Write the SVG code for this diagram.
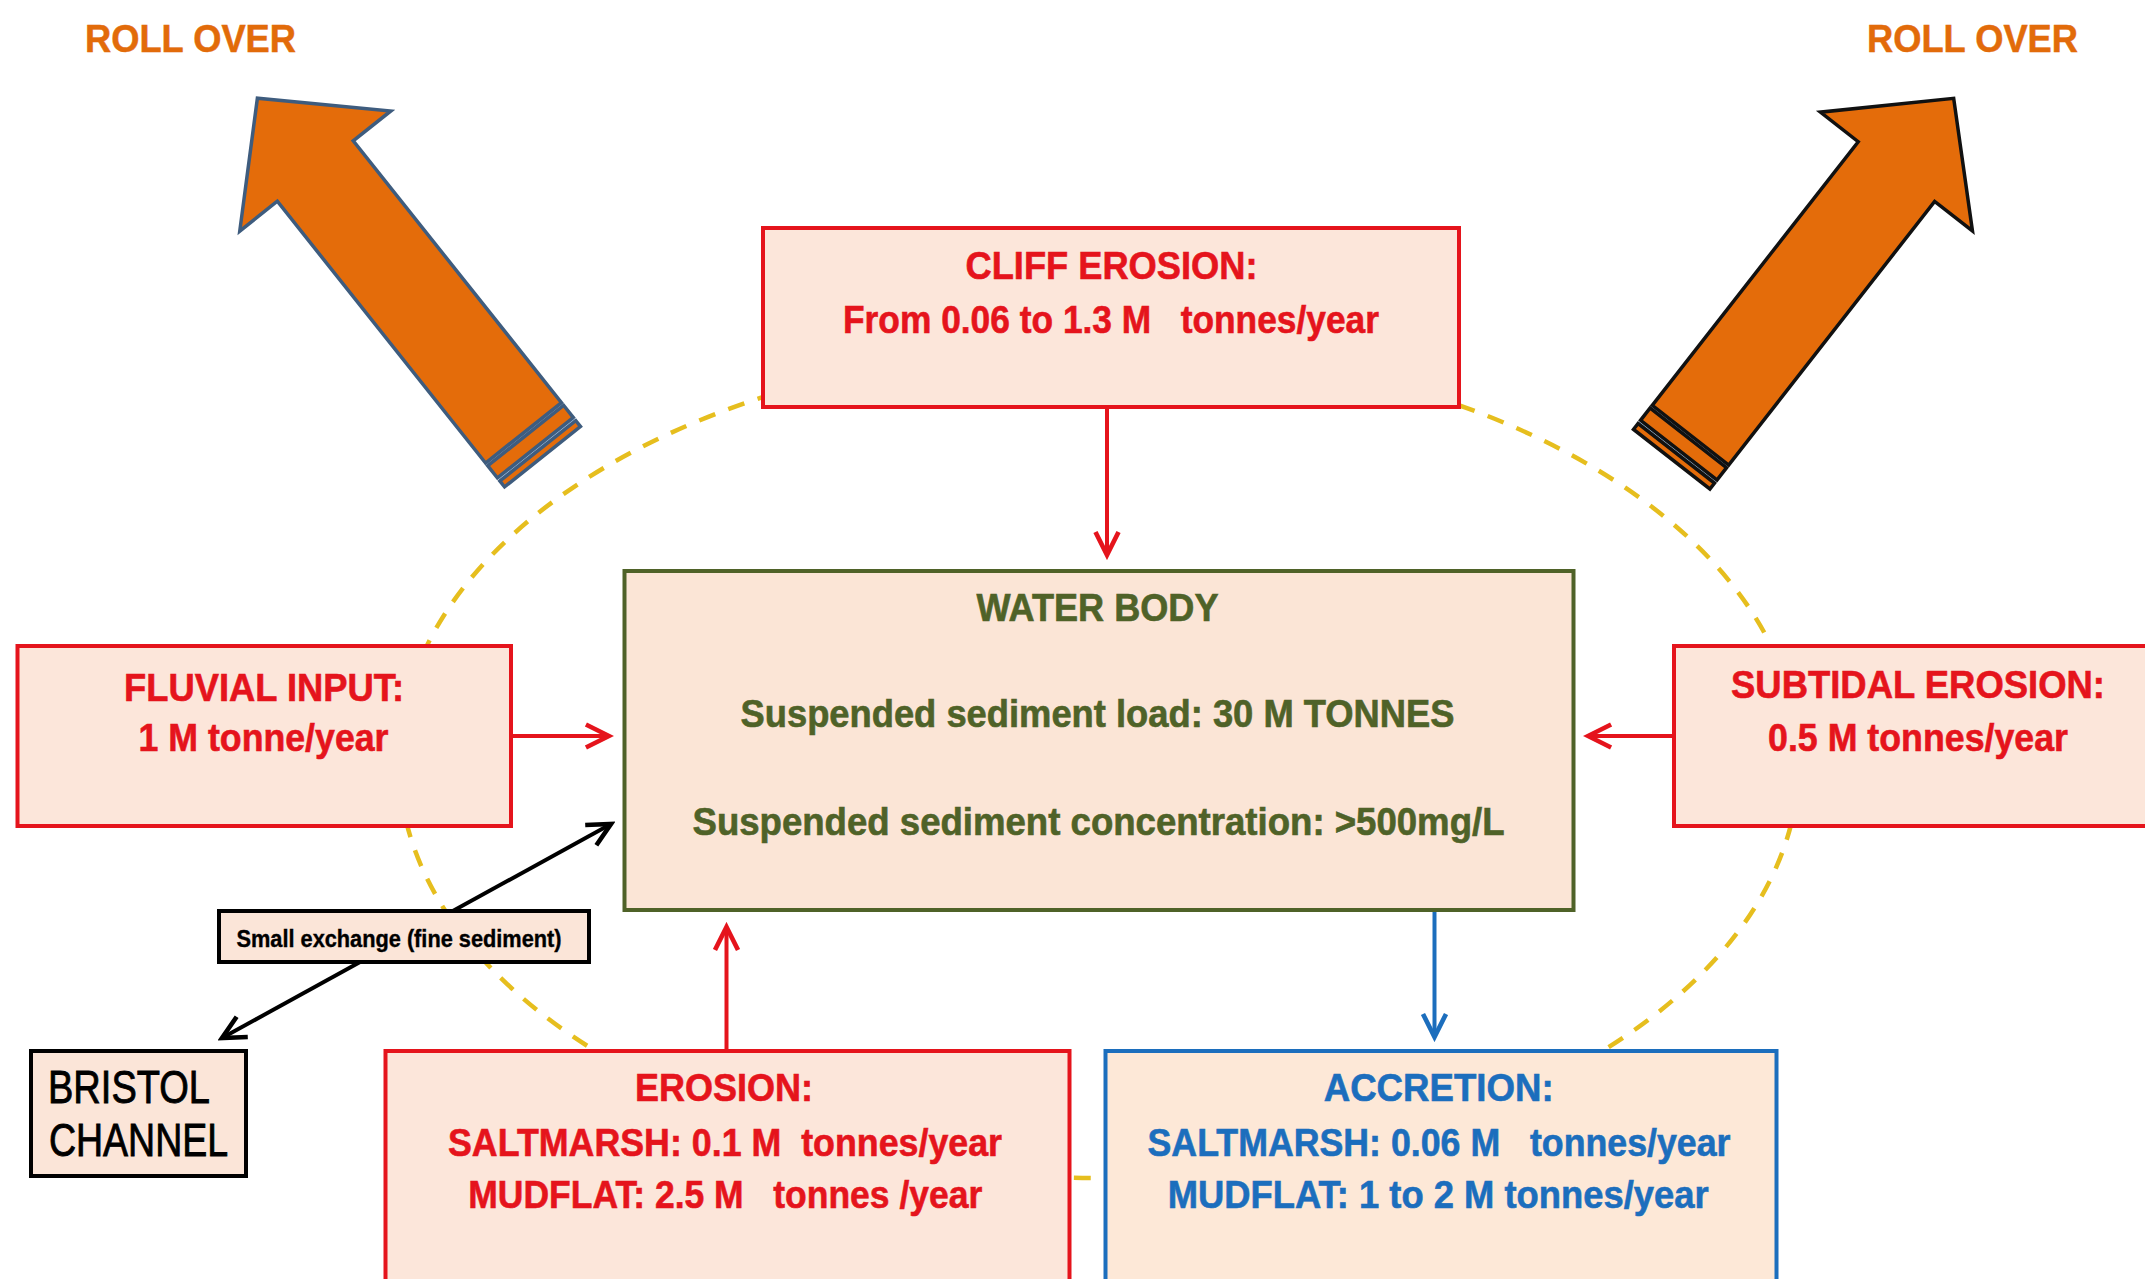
<svg xmlns="http://www.w3.org/2000/svg" width="2145" height="1279" viewBox="0 0 2145 1279">
  <style>
    .t { font-family: "Liberation Sans", Arial, sans-serif; font-weight: bold; text-anchor: middle; }
    .red { fill: #E5141C; stroke: #E5141C; stroke-width: 0.6; font-size: 38px; }
    .blue { fill: #1C6EBD; stroke: #1C6EBD; stroke-width: 0.6; font-size: 38px; }
    .olive { fill: #4F6228; stroke: #4F6228; stroke-width: 0.6; font-size: 38px; }
    .roll { fill: #E26B0A; stroke: #E26B0A; stroke-width: 0.5; font-size: 38px; }
    .boxr { fill: #FCE6DA; stroke: #E5141C; stroke-width: 4; }
    .boxb { fill: #FDE8D7; stroke: #1C6EBD; stroke-width: 4; }
    .boxw { fill: #FBE5D6; stroke: #4F6228; stroke-width: 4; }
    .boxk { fill: #FBE5D8; stroke: #000000; stroke-width: 4; }
    .cr { stroke: #E5141C; stroke-width: 4; fill: none; }
    .cb { stroke: #1C6EBD; stroke-width: 4; fill: none; }
    .ck { stroke: #000000; stroke-width: 4; fill: none; }
    .arrowL { fill: #E46C0A; stroke: #3E5C7E; stroke-width: 3.5; stroke-linejoin: miter; }
    .arrowR { fill: #E46C0A; stroke: #111111; stroke-width: 3.5; stroke-linejoin: miter; }
    .gap { fill: #A9C9E9; }
    .bc { font-family: "Liberation Sans", Arial, sans-serif; font-size: 46px; fill: #000000; stroke: #000000; stroke-width: 0.9; }
  </style>
  <defs>
    <marker id="mr" markerUnits="userSpaceOnUse" markerWidth="30" markerHeight="30" viewBox="-2 -2 26 26" refX="20" refY="10" orient="auto">
      <path d="M0,0 L20,10 L0,20" fill="none" stroke="#E5141C" stroke-width="4"/>
    </marker>
    <marker id="mb" markerUnits="userSpaceOnUse" markerWidth="30" markerHeight="30" viewBox="-2 -2 26 26" refX="20" refY="10" orient="auto">
      <path d="M0,0 L20,10 L0,20" fill="none" stroke="#1C6EBD" stroke-width="4"/>
    </marker>
    <marker id="mk" markerUnits="userSpaceOnUse" markerWidth="30" markerHeight="30" viewBox="-2 -2 26 26" refX="20" refY="10" orient="auto-start-reverse">
      <path d="M0,0 L20,10 L0,20" fill="none" stroke="#000000" stroke-width="4"/>
    </marker>
  </defs>

  <rect x="0" y="0" width="2145" height="1279" fill="#FFFFFF"/>

  <ellipse id="boundary" cx="1099" cy="762" rx="700" ry="416" fill="none" stroke="#E6BE1E" stroke-width="4.5" stroke-dasharray="17 14"/>

  <g id="rollover-left">
    <text class="t roll" x="190.5" y="52" textLength="211" lengthAdjust="spacingAndGlyphs">ROLL OVER</text>
    <g transform="translate(542.5,456.7) rotate(-128.5)">
      <rect class="gap" x="0" y="-48.5" width="31" height="97"/>
      <path class="arrowL" d="M30.5,-48.5 L365,-48.5 L365,-96.5 L458,0 L365,96.5 L365,48.5 L30.5,48.5 Z"/>
      <rect class="arrowL" x="11.5" y="-48.5" width="15.5" height="97"/>
      <rect class="arrowL" x="0" y="-48.5" width="7.5" height="97"/>
    </g>
  </g>

  <g id="rollover-right">
    <text class="t roll" x="1972.5" y="52" textLength="211" lengthAdjust="spacingAndGlyphs">ROLL OVER</text>
    <g transform="translate(1671.7,459.2) rotate(-52)">
      <rect class="gap" x="0" y="-48.5" width="31" height="97"/>
      <path class="arrowR" d="M30.5,-48.5 L365,-48.5 L365,-96.5 L458,0 L365,96.5 L365,48.5 L30.5,48.5 Z"/>
      <rect class="arrowR" x="11.5" y="-48.5" width="15.5" height="97"/>
      <rect class="arrowR" x="0" y="-48.5" width="7.5" height="97"/>
    </g>
  </g>

  <g id="connectors">
    <line class="cr" x1="1107" y1="407" x2="1107" y2="555" marker-end="url(#mr)"/>
    <line class="cr" x1="511" y1="736" x2="609" y2="736" marker-end="url(#mr)"/>
    <line class="cr" x1="1674" y1="736" x2="1588" y2="736" marker-end="url(#mr)"/>
    <line class="cr" x1="726.5" y1="1051" x2="726.5" y2="927" marker-end="url(#mr)"/>
    <line class="cb" x1="1434.5" y1="910" x2="1434.5" y2="1037" marker-end="url(#mb)"/>
    <line class="ck" x1="222" y1="1038" x2="611" y2="824" marker-start="url(#mk)" marker-end="url(#mk)"/>
  </g>

  <g id="cliff-erosion">
    <rect class="boxr" x="763" y="228" width="696" height="179"/>
    <text class="t red" x="1111.5" y="279" textLength="292" lengthAdjust="spacingAndGlyphs">CLIFF EROSION:</text>
    <text class="t red" x="1111" y="333" textLength="536" lengthAdjust="spacingAndGlyphs" xml:space="preserve">From 0.06 to 1.3 M   tonnes/year</text>
  </g>

  <g id="water-body">
    <rect class="boxw" x="624.5" y="571" width="949" height="339"/>
    <text class="t olive" x="1097.5" y="621" textLength="242" lengthAdjust="spacingAndGlyphs">WATER BODY</text>
    <text class="t olive" x="1097.5" y="727" textLength="714" lengthAdjust="spacingAndGlyphs">Suspended sediment load: 30 M TONNES</text>
    <text class="t olive" x="1098.5" y="835" textLength="812" lengthAdjust="spacingAndGlyphs">Suspended sediment concentration: &gt;500mg/L</text>
  </g>

  <g id="fluvial-input">
    <rect class="boxr" x="17.5" y="646" width="493.5" height="180"/>
    <text class="t red" x="264" y="701" textLength="280" lengthAdjust="spacingAndGlyphs">FLUVIAL INPUT:</text>
    <text class="t red" x="263.5" y="751" textLength="250" lengthAdjust="spacingAndGlyphs">1 M tonne/year</text>
  </g>

  <g id="subtidal-erosion">
    <rect class="boxr" x="1674" y="646" width="500" height="180"/>
    <text class="t red" x="1918" y="698" textLength="374" lengthAdjust="spacingAndGlyphs">SUBTIDAL EROSION:</text>
    <text class="t red" x="1918" y="751" textLength="300" lengthAdjust="spacingAndGlyphs">0.5 M tonnes/year</text>
  </g>

  <g id="small-exchange">
    <rect class="boxk" x="219" y="911" width="370" height="51"/>
    <text class="t" x="399" y="947" style="font-size:24px;fill:#000;stroke:#000;stroke-width:0.4" textLength="325" lengthAdjust="spacingAndGlyphs">Small exchange (fine sediment)</text>
  </g>

  <g id="bristol-channel">
    <rect class="boxk" x="31" y="1051" width="215" height="125"/>
    <text class="bc" x="48" y="1103" textLength="162" lengthAdjust="spacingAndGlyphs">BRISTOL</text>
    <text class="bc" x="49" y="1156" textLength="179" lengthAdjust="spacingAndGlyphs">CHANNEL</text>
  </g>

  <g id="erosion">
    <rect class="boxr" x="385.5" y="1051" width="684" height="260"/>
    <text class="t red" x="724" y="1101" textLength="178" lengthAdjust="spacingAndGlyphs">EROSION:</text>
    <text class="t red" x="725" y="1156" textLength="554" lengthAdjust="spacingAndGlyphs" xml:space="preserve">SALTMARSH: 0.1 M  tonnes/year</text>
    <text class="t red" x="725.3" y="1208" textLength="514" lengthAdjust="spacingAndGlyphs" xml:space="preserve">MUDFLAT: 2.5 M   tonnes /year</text>
  </g>

  <g id="accretion">
    <rect class="boxb" x="1105.5" y="1051" width="671" height="260"/>
    <text class="t blue" x="1438.7" y="1101" textLength="230" lengthAdjust="spacingAndGlyphs">ACCRETION:</text>
    <text class="t blue" x="1439" y="1156" textLength="583" lengthAdjust="spacingAndGlyphs" xml:space="preserve">SALTMARSH: 0.06 M   tonnes/year</text>
    <text class="t blue" x="1438.2" y="1208" textLength="541" lengthAdjust="spacingAndGlyphs">MUDFLAT: 1 to 2 M tonnes/year</text>
  </g>
</svg>
